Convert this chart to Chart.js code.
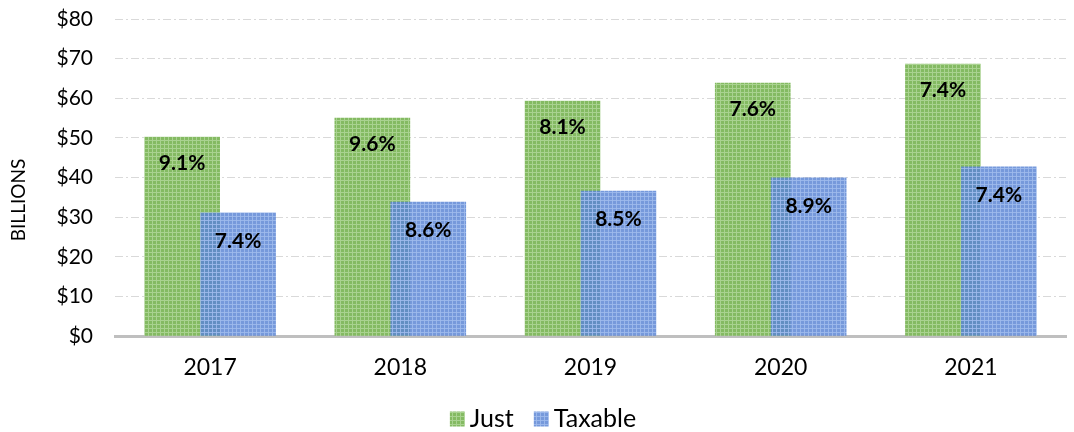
<!DOCTYPE html>
<html>
<head>
<meta charset="utf-8">
<script src="https://cdn.jsdelivr.net/npm/chart.js@4/dist/chart.umd.min.js"></script>
<style>
  html, body { margin: 0; padding: 0; background: #fff; }
  #wrap { width: 1074px; height: 432px; }
</style>
</head>
<body>
<div id="wrap"><canvas id="myChart" width="1074" height="432"></canvas></div>
<script>
const years = ["2017", "2018", "2019", "2020", "2021"];
const justValues = [50.2, 55.0, 59.3, 63.8, 68.6];
const taxableValues = [31.1, 33.8, 36.6, 39.9, 42.7];
const justGrowth = ["9.1%", "9.6%", "8.1%", "7.6%", "7.4%"];
const taxableGrowth = ["7.4%", "8.6%", "8.5%", "8.9%", "7.4%"];
const yTicks = [0, 10, 20, 30, 40, 50, 60, 70, 80];

const FONT = "Lato, 'Liberation Sans', sans-serif";
const SHIFT = 0.147; // bars overlap, offset from the year position

// small grid pattern like the excel fill
function makePattern(base, line) {
  const c = document.createElement("canvas");
  c.width = 4;
  c.height = 4;
  const g = c.getContext("2d");
  g.fillStyle = base;
  g.fillRect(0, 0, 4, 4);
  g.fillStyle = line;
  g.fillRect(0, 0, 4, 1);
  g.fillRect(0, 0, 1, 4);
  return g.createPattern(c, "repeat");
}

const ctx = document.getElementById("myChart").getContext("2d");
const greenFill = makePattern("#84ba62", "#a9d290");
const blueFill = makePattern("rgba(92,134,212,0.84)", "rgba(158,186,236,0.86)");

const barLabels = {
  id: "barLabels",
  afterDatasetsDraw(chart) {
    const c = chart.ctx;
    c.save();
    c.font = "bold 21px " + FONT;
    c.fillStyle = "#000";
    c.textAlign = "center";
    c.textBaseline = "middle";
    const texts = [justGrowth, taxableGrowth];
    const drop = [26, 28];
    chart.data.datasets.forEach((ds, di) => {
      chart.getDatasetMeta(di).data.forEach((bar, i) => {
        c.fillText(texts[di][i], bar.x, bar.y + drop[di]);
      });
    });
    c.restore();

    // axis title
    c.save();
    c.font = "19px " + FONT;
    c.fillStyle = "#000";
    c.textAlign = "center";
    c.textBaseline = "middle";
    c.translate(19, 200);
    c.rotate(-Math.PI / 2);
    c.fillText("BILLIONS", 0, 0);
    c.restore();

    // legend, centred under the plot
    c.save();
    c.font = "25px " + FONT;
    c.textBaseline = "middle";
    const items = chart.data.datasets.map((ds) => ({ text: ds.label, fill: ds.backgroundColor }));
    const box = 15, gapText = 5, gapItem = 20;
    let total = 0;
    items.forEach((it, i) => {
      it.w = c.measureText(it.text).width;
      total += box + gapText + it.w + (i ? gapItem : 0);
    });
    let x = chart.width / 2 - total / 2 + 6;
    const yMid = chart.height - 13;
    items.forEach((it) => {
      c.fillStyle = it.fill;
      c.fillRect(x, yMid - box / 2, box, box);
      x += box + gapText;
      c.fillStyle = "#000";
      c.fillText(it.text, x, yMid);
      x += it.w + gapItem;
    });
    c.restore();
  },
};

new Chart(ctx, {
  type: "bar",
  data: {
    datasets: [
      {
        label: "Just",
        data: justValues.map((v, i) => ({ x: i - SHIFT, y: v })),
        backgroundColor: greenFill,
        grouped: false,
        barThickness: 75,
        order: 2,
      },
      {
        label: "Taxable",
        data: taxableValues.map((v, i) => ({ x: i + SHIFT, y: v })),
        backgroundColor: blueFill,
        grouped: false,
        barThickness: 75,
        order: 1,
      },
    ],
  },
  options: {
    responsive: false,
    animation: false,
    layout: { padding: { top: 19, right: 8, left: 6, bottom: 0 } },
    scales: {
      x: {
        type: "linear",
        min: -0.5,
        max: 4.5,
        offset: false,
        afterBuildTicks: (axis) => {
          axis.ticks = years.map((y, i) => ({ value: i }));
        },
        afterFit: (axis) => {
          axis.height = 96;
          axis.paddingLeft = 0;
          axis.paddingRight = 0;
        },
        grid: { display: false },
        border: { color: "#bfbfbf", width: 3 },
        ticks: {
          color: "#000",
          font: { family: FONT, size: 23 },
          padding: 10,
          callback: (v) => years[v],
        },
      },
      y: {
        min: 0,
        max: 80,
        afterBuildTicks: (axis) => {
          axis.ticks = yTicks.map((v) => ({ value: v }));
        },
        afterFit: (axis) => {
          axis.width = 109;
          axis.paddingTop = 0;
          axis.paddingBottom = 0;
        },
        grid: { color: "#d9d9d9", lineWidth: 1, drawTicks: false },
        border: { display: false, dash: [8, 3, 2, 3] },
        ticks: {
          color: "#000",
          font: { family: FONT, size: 21 },
          padding: 22,
          callback: (v) => "$" + v,
        },
      },
    },
    plugins: {
      legend: { display: false },
      tooltip: { enabled: false },
    },
  },
  plugins: [barLabels],
});
</script>
</body>
</html>
